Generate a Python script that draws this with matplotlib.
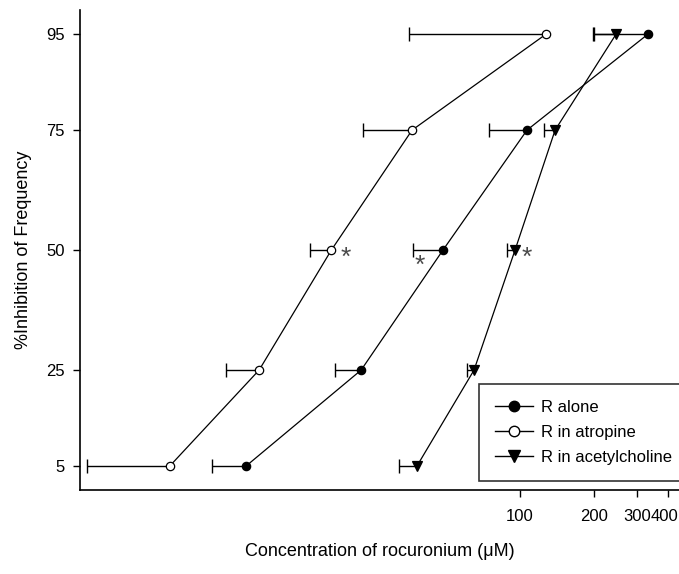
"""Concentration-response curves for rocuronium (log x axis, one-sided error bars)."""

import matplotlib

matplotlib.use("Agg")

import matplotlib.pyplot as plt  # noqa: E402
import matplotlib.transforms as mtransforms  # noqa: E402
from matplotlib.lines import Line2D  # noqa: E402
from matplotlib.ticker import FixedLocator, NullLocator  # noqa: E402

plt.rcParams["font.family"] = ["Liberation Sans", "DejaVu Sans"]

inhibition = [5, 25, 50, 75, 95]

alone_conc = [7.7, 22.6, 48.6, 106.7, 331]
alone_low = [5.6, 17.7, 36.7, 74.8, 197]

atropine_conc = [3.77, 8.7, 17.1, 36.4, 127.5]
atropine_low = [1.74, 6.4, 14.0, 23.0, 35.4]

ach_conc = [38.1, 65.0, 95.4, 138.8, 245.6]
ach_low = [32.2, 60.9, 88.5, 125.0, 200]

star_x = [19.6, 39.2, 106.8]
star_y = [48.3, 46.8, 48.3]

x_ticks = [100, 200, 300, 400]
y_ticks = [5, 25, 50, 75, 95]


def lower_err(conc, low):
    return [[c - l for c, l in zip(conc, low)], [0] * len(conc)]


fig = plt.figure(figsize=(6.79, 5.74), dpi=100)
ax = fig.add_axes([0.1178, 0.1463, 0.882, 0.836])

series = [
    (alone_conc, alone_low, "o", "black", "R alone", 6),
    (atropine_conc, atropine_low, "o", "white", "R in atropine", 6),
    (ach_conc, ach_low, "v", "black", "R in acetylcholine", 7),
]
handles = []
for conc, low, marker, face, label, ms in series:
    _, caps, _ = ax.errorbar(
        conc, inhibition, xerr=lower_err(conc, low),
        fmt="none", ecolor="black", elinewidth=1.0, capsize=4.7, capthick=1.0, zorder=2,
    )
    # only the lower (left) cap is drawn in the original
    caps[1].set_visible(False)
    ax.plot(
        conc, inhibition, color="black", linewidth=0.9, marker=marker, markersize=ms,
        markerfacecolor=face, markeredgecolor="black", markeredgewidth=0.9, zorder=3,
    )
    handles.append(Line2D([], [], color="black", linewidth=1.0, marker=marker, markersize=ms + 1.5,
                          markerfacecolor=face, markeredgecolor="black", label=label))

for sx, sy in zip(star_x, star_y):
    ax.text(sx, sy, "*", fontsize=19, color="#4a4a4a", ha="center", va="center")

ax.set_xscale("log")
ax.set_xlim(1.627, 442)
ax.set_ylim(0, 100)
ax.xaxis.set_major_locator(FixedLocator(x_ticks))
ax.xaxis.set_minor_locator(NullLocator())
ax.set_xticklabels([str(t) for t in x_ticks])
ax.set_yticks(y_ticks)
ax.tick_params(axis="both", direction="out", length=5, width=1, labelsize=12, colors="black")
ax.tick_params(axis="x", pad=9)
ax.tick_params(axis="y", pad=6)

# the last label sits at the figure edge; nudge it inward a few pixels
last = ax.get_xticklabels()[-1]
last.set_transform(last.get_transform() + mtransforms.ScaledTranslation(-4 / 100, 0, fig.dpi_scale_trans))

for side in ("top", "right"):
    ax.spines[side].set_visible(False)
for side in ("left", "bottom"):
    ax.spines[side].set_linewidth(1.2)

ax.set_xlabel("Concentration of rocuronium (\u03bcM)", fontsize=13, labelpad=13)
ax.set_ylabel("%Inhibition of Frequency", fontsize=13, labelpad=10)

legend = ax.legend(
    handles=handles, loc="lower left", bbox_to_anchor=(0.666, 0.019), fontsize=12,
    frameon=True, fancybox=False, edgecolor="black", handlelength=2.3, handletextpad=0.5,
    borderpad=0.95, labelspacing=0.6, borderaxespad=0,
)
legend.get_frame().set_linewidth(1.2)

fig.savefig("out.png", dpi=100)
plt.close(fig)
